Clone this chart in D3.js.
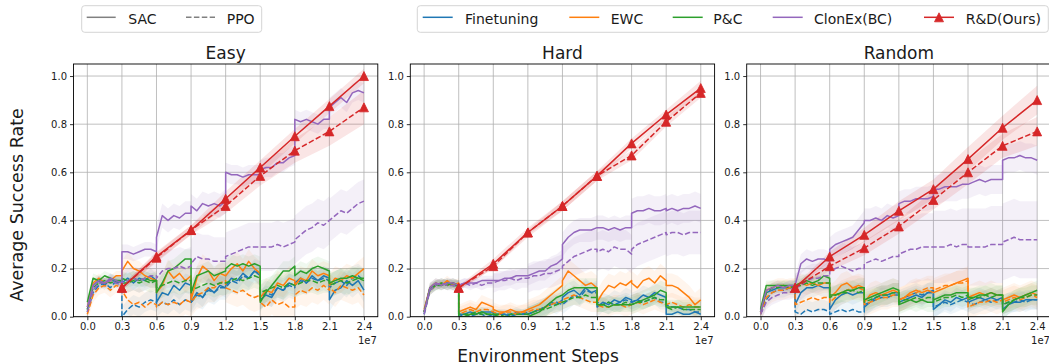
<!DOCTYPE html>
<html><head><meta charset="utf-8">
<script src="https://cdn.jsdelivr.net/npm/d3@7"></script>
<style>
body{margin:0;background:#fff}
svg{display:block}
text{font-family:"DejaVu Sans",sans-serif;fill:#1a1a1a}
</style>
</head><body>
<svg id="c" width="1049" height="364"></svg>
<script>
// ---------------- data ----------------
const panelTitles = ["Easy", "Hard", "Random"];
const methodNames = ["Finetuning", "EWC", "P&C", "ClonEx(BC)"];
const methodColors = ["#1f77b4", "#ff7f0e", "#2ca02c", "#9467bd"];
const oursName = "R&D(Ours)";
const oursColor = "#d62728";
const algoNames = ["SAC", "PPO"];
const xTickValues = [0, 0.3, 0.6, 0.9, 1.2, 1.5, 1.8, 2.1, 2.4];
const yTickValues = [0, 0.2, 0.4, 0.6, 0.8, 1.0];
const taskLen = 0.3;      // env steps per task (x1e7)
const sampleStep = 0.05;  // sampling interval (x1e7)
const perTask = 7;        // samples per task incl. both ends
const oursSteps = [0.3, 0.6, 0.9, 1.2, 1.5, 1.8, 2.1, 2.4];

// Easy
const easy_ft_sac = [0.03,0.13,0.15,0.13,0.16,0.14,0.15, 0.14,0.16,0.14,0.16,0.15,0.17,0.15, 0.06,0.10,0.09,0.13,0.11,0.14,0.13, 0.06,0.10,0.08,0.12,0.10,0.13,0.12, 0.13,0.16,0.15,0.18,0.16,0.19,0.17, 0.07,0.09,0.08,0.12,0.11,0.14,0.13, 0.14,0.16,0.14,0.17,0.15,0.17,0.16, 0.07,0.11,0.12,0.15,0.13,0.15,0.11];
const easy_ft_ppo = [0.02,0.10,0.13,0.14,0.12,0.15,0.14, 0.00,0.03,0.05,0.04,0.06,0.07,0.06, 0.04,0.06,0.05,0.07,0.05,0.07,0.06, 0.06,0.09,0.08,0.11,0.10,0.12,0.12, 0.12,0.15,0.14,0.17,0.16,0.19,0.18, 0.08,0.10,0.09,0.12,0.11,0.13,0.12, 0.13,0.15,0.14,0.16,0.15,0.16,0.15, 0.12,0.14,0.15,0.13,0.16,0.17,0.15];
const easy_ewc_sac = [0.04,0.14,0.16,0.14,0.15,0.17,0.17, 0.19,0.23,0.20,0.19,0.17,0.16,0.15, 0.10,0.13,0.19,0.16,0.18,0.15,0.17, 0.07,0.16,0.21,0.19,0.15,0.18,0.17, 0.17,0.20,0.22,0.19,0.23,0.20,0.18, 0.08,0.11,0.10,0.14,0.13,0.16,0.15, 0.13,0.16,0.15,0.19,0.17,0.18,0.17, 0.13,0.16,0.15,0.17,0.16,0.18,0.20];
const easy_ewc_ppo = [0.01,0.09,0.12,0.13,0.11,0.13,0.12, 0.11,0.07,0.05,0.06,0.04,0.06,0.05, 0.04,0.06,0.05,0.06,0.05,0.07,0.06, 0.06,0.09,0.10,0.12,0.12,0.14,0.15, 0.12,0.11,0.10,0.11,0.09,0.08,0.09, 0.06,0.04,0.07,0.05,0.06,0.04,0.04, 0.09,0.11,0.10,0.12,0.11,0.13,0.11, 0.12,0.10,0.13,0.12,0.11,0.12,0.09];
const easy_pc_sac = [0.06,0.16,0.15,0.17,0.16,0.15,0.15, 0.16,0.15,0.16,0.15,0.16,0.15,0.15, 0.10,0.14,0.19,0.20,0.22,0.24,0.24, 0.10,0.17,0.18,0.19,0.17,0.18,0.19, 0.20,0.22,0.21,0.22,0.21,0.22,0.21, 0.06,0.10,0.13,0.16,0.19,0.19,0.21, 0.17,0.19,0.18,0.20,0.21,0.20,0.19, 0.14,0.15,0.16,0.16,0.17,0.16,0.16];
const easy_pc_ppo = [0.03,0.12,0.14,0.15,0.14,0.15,0.14, 0.14,0.14,0.15,0.14,0.15,0.14,0.15, 0.12,0.13,0.14,0.15,0.14,0.15,0.15, 0.11,0.12,0.13,0.14,0.13,0.14,0.14, 0.14,0.15,0.16,0.15,0.16,0.17,0.16, 0.10,0.11,0.12,0.13,0.12,0.14,0.13, 0.13,0.14,0.15,0.15,0.14,0.15,0.15, 0.13,0.14,0.15,0.14,0.15,0.16,0.15];
const easy_cl_sac = [0.04,0.13,0.15,0.14,0.16,0.15,0.14, 0.27,0.27,0.26,0.27,0.28,0.28,0.27, 0.33,0.42,0.40,0.42,0.41,0.43,0.43, 0.46,0.44,0.47,0.46,0.47,0.46,0.48, 0.60,0.59,0.59,0.58,0.59,0.59,0.59, 0.61,0.62,0.62,0.64,0.64,0.66,0.67, 0.82,0.81,0.82,0.81,0.80,0.82,0.82, 0.87,0.89,0.91,0.89,0.93,0.94,0.93];
const easy_cl_ppo = [0.02,0.11,0.14,0.14,0.15,0.14,0.13, 0.14,0.15,0.16,0.15,0.16,0.17,0.17, 0.16,0.19,0.20,0.20,0.21,0.20,0.21, 0.22,0.25,0.24,0.24,0.23,0.23,0.23, 0.25,0.26,0.27,0.28,0.29,0.29,0.29, 0.29,0.29,0.29,0.30,0.29,0.30,0.31, 0.32,0.34,0.36,0.37,0.39,0.38,0.40, 0.40,0.42,0.44,0.43,0.45,0.47,0.48];
const easy_ours_sac = [0.12, 0.25, 0.36, 0.49, 0.62, 0.75, 0.875, 1.0];
const easy_ours_ppo = [0.12, 0.245, 0.36, 0.46, 0.585, 0.69, 0.77, 0.87];

// Hard
const hard_ft_sac = [0.02,0.12,0.14,0.13,0.14,0.13,0.13, 0.01,0.01,0.02,0.01,0.02,0.02,0.02, 0.01,0.01,0.01,0.00,0.01,0.01,0.01, 0.01,0.02,0.03,0.04,0.06,0.05,0.07, 0.08,0.10,0.11,0.09,0.12,0.10,0.11, 0.04,0.06,0.05,0.07,0.06,0.08,0.07, 0.06,0.07,0.09,0.08,0.10,0.09,0.08, 0.01,0.01,0.02,0.01,0.01,0.02,0.01];
const hard_ft_ppo = [0.01,0.11,0.13,0.14,0.13,0.14,0.13, 0.00,0.01,0.00,0.01,0.01,0.00,0.01, 0.00,0.01,0.01,0.01,0.02,0.01,0.02, 0.01,0.02,0.03,0.04,0.05,0.06,0.05, 0.05,0.07,0.09,0.08,0.11,0.10,0.10, 0.06,0.05,0.06,0.05,0.06,0.07,0.06, 0.06,0.07,0.06,0.07,0.08,0.06,0.06, 0.05,0.04,0.04,0.03,0.03,0.02,0.02];
const hard_ewc_sac = [0.03,0.12,0.14,0.13,0.15,0.13,0.14, 0.02,0.03,0.04,0.03,0.06,0.05,0.04, 0.03,0.02,0.02,0.03,0.02,0.02,0.03, 0.03,0.04,0.05,0.07,0.09,0.11,0.13, 0.15,0.19,0.17,0.15,0.13,0.14,0.12, 0.06,0.10,0.13,0.12,0.14,0.13,0.15, 0.14,0.12,0.15,0.16,0.14,0.17,0.15, 0.13,0.13,0.12,0.10,0.08,0.05,0.07];
const hard_ewc_ppo = [0.02,0.11,0.13,0.14,0.13,0.14,0.13, 0.01,0.02,0.03,0.02,0.03,0.03,0.02, 0.02,0.01,0.02,0.02,0.01,0.02,0.02, 0.02,0.03,0.03,0.04,0.05,0.06,0.06, 0.07,0.08,0.09,0.08,0.07,0.06,0.06, 0.05,0.04,0.04,0.05,0.05,0.04,0.05, 0.05,0.06,0.05,0.06,0.07,0.06,0.05, 0.05,0.06,0.05,0.04,0.05,0.04,0.04];
const hard_pc_sac = [0.02,0.12,0.13,0.14,0.13,0.14,0.13, 0.00,0.00,0.01,0.01,0.02,0.01,0.01, 0.01,0.00,0.00,0.00,0.00,0.00,0.00, 0.00,0.01,0.02,0.04,0.06,0.08,0.09, 0.09,0.11,0.12,0.12,0.12,0.12,0.12, 0.05,0.05,0.04,0.05,0.05,0.05,0.05, 0.05,0.06,0.07,0.08,0.09,0.11,0.10, 0.04,0.04,0.04,0.04,0.04,0.04,0.04];
const hard_pc_ppo = [0.02,0.11,0.13,0.13,0.14,0.13,0.13, 0.01,0.01,0.01,0.02,0.01,0.01,0.01, 0.01,0.01,0.00,0.01,0.01,0.01,0.01, 0.01,0.02,0.03,0.03,0.04,0.05,0.06, 0.06,0.07,0.08,0.08,0.09,0.08,0.08, 0.05,0.05,0.06,0.05,0.05,0.06,0.05, 0.05,0.06,0.06,0.07,0.08,0.07,0.07, 0.04,0.03,0.04,0.03,0.03,0.03,0.03];
const hard_cl_sac = [0.02,0.12,0.14,0.13,0.14,0.14,0.13, 0.13,0.14,0.14,0.14,0.15,0.15,0.15, 0.15,0.15,0.16,0.16,0.17,0.17,0.17, 0.17,0.18,0.19,0.19,0.21,0.22,0.24, 0.30,0.33,0.35,0.36,0.36,0.36,0.37, 0.37,0.37,0.36,0.37,0.36,0.37,0.37, 0.43,0.44,0.44,0.45,0.44,0.44,0.45, 0.44,0.45,0.44,0.45,0.45,0.46,0.45];
const hard_cl_ppo = [0.01,0.11,0.13,0.14,0.13,0.13,0.13, 0.13,0.14,0.13,0.14,0.13,0.14,0.14, 0.14,0.15,0.15,0.16,0.15,0.16,0.16, 0.16,0.17,0.17,0.18,0.18,0.19,0.20, 0.21,0.23,0.25,0.26,0.27,0.28,0.28, 0.27,0.28,0.27,0.29,0.28,0.28,0.26, 0.28,0.30,0.31,0.32,0.33,0.34,0.35, 0.34,0.35,0.35,0.34,0.35,0.35,0.35];
const hard_ours_sac = [0.12, 0.22, 0.35, 0.46, 0.585, 0.72, 0.84, 0.95];
const hard_ours_ppo = [0.12, 0.21, 0.35, 0.46, 0.585, 0.67, 0.81, 0.93];

// Random
const rand_ft_sac = [0.02,0.10,0.11,0.12,0.12,0.12,0.12, 0.05,0.10,0.12,0.12,0.13,0.12,0.12, 0.03,0.07,0.09,0.10,0.09,0.10,0.10, 0.04,0.06,0.08,0.09,0.09,0.10,0.10, 0.06,0.07,0.08,0.09,0.08,0.10,0.11, 0.03,0.05,0.07,0.06,0.08,0.07,0.08, 0.06,0.07,0.08,0.07,0.08,0.07,0.08, 0.03,0.05,0.06,0.06,0.07,0.07,0.07];
const rand_ft_ppo = [0.01,0.07,0.10,0.11,0.11,0.12,0.12, 0.02,0.01,0.03,0.02,0.03,0.03,0.02, 0.01,0.02,0.03,0.02,0.03,0.02,0.02, 0.05,0.06,0.07,0.08,0.08,0.09,0.09, 0.07,0.08,0.09,0.10,0.09,0.10,0.10, 0.04,0.05,0.06,0.05,0.06,0.07,0.06, 0.06,0.05,0.06,0.07,0.06,0.07,0.07, 0.05,0.06,0.06,0.07,0.06,0.07,0.07];
const rand_ewc_sac = [0.02,0.11,0.12,0.13,0.13,0.12,0.13, 0.13,0.14,0.13,0.14,0.13,0.14,0.14, 0.08,0.10,0.13,0.14,0.12,0.13,0.12, 0.06,0.09,0.10,0.09,0.10,0.11,0.10, 0.07,0.08,0.10,0.11,0.10,0.11,0.10, 0.10,0.11,0.12,0.13,0.14,0.15,0.16, 0.08,0.09,0.10,0.09,0.10,0.09,0.09, 0.07,0.08,0.09,0.08,0.09,0.10,0.09];
const rand_ewc_ppo = [0.01,0.08,0.10,0.11,0.11,0.12,0.12, 0.05,0.06,0.07,0.08,0.07,0.08,0.08, 0.06,0.08,0.10,0.11,0.12,0.12,0.11, 0.05,0.06,0.07,0.08,0.08,0.09,0.09, 0.07,0.08,0.09,0.10,0.11,0.12,0.12, 0.11,0.12,0.13,0.13,0.14,0.14,0.15, 0.04,0.05,0.06,0.06,0.07,0.06,0.07, 0.06,0.07,0.08,0.07,0.08,0.09,0.08];
const rand_pc_sac = [0.03,0.13,0.13,0.13,0.13,0.13,0.13, 0.13,0.14,0.15,0.14,0.15,0.17,0.16, 0.09,0.09,0.10,0.11,0.11,0.12,0.12, 0.07,0.08,0.09,0.10,0.11,0.12,0.11, 0.05,0.06,0.07,0.06,0.07,0.06,0.06, 0.07,0.08,0.09,0.09,0.10,0.10,0.10, 0.08,0.08,0.09,0.09,0.10,0.09,0.09, 0.02,0.05,0.07,0.08,0.09,0.10,0.11];
const rand_pc_ppo = [0.02,0.10,0.12,0.12,0.13,0.12,0.13, 0.12,0.13,0.14,0.13,0.14,0.14,0.14, 0.08,0.09,0.10,0.10,0.11,0.10,0.11, 0.06,0.07,0.08,0.09,0.09,0.10,0.10, 0.06,0.07,0.07,0.08,0.07,0.08,0.08, 0.06,0.07,0.08,0.08,0.09,0.08,0.09, 0.07,0.08,0.08,0.09,0.08,0.09,0.09, 0.05,0.06,0.07,0.08,0.08,0.09,0.09];
const rand_cl_sac = [0.02,0.11,0.12,0.13,0.12,0.13,0.13, 0.13,0.22,0.24,0.23,0.24,0.24,0.23, 0.28,0.30,0.31,0.32,0.33,0.36,0.39, 0.40,0.40,0.41,0.40,0.42,0.41,0.42, 0.47,0.48,0.48,0.49,0.49,0.49,0.50, 0.53,0.53,0.54,0.54,0.54,0.55,0.55, 0.55,0.56,0.57,0.56,0.57,0.57,0.57, 0.65,0.66,0.66,0.67,0.66,0.66,0.65];
const rand_cl_ppo = [0.01,0.06,0.08,0.09,0.10,0.10,0.11, 0.12,0.13,0.15,0.16,0.16,0.17,0.17, 0.19,0.20,0.21,0.20,0.19,0.20,0.20, 0.22,0.23,0.24,0.23,0.24,0.25,0.25, 0.26,0.27,0.28,0.28,0.29,0.29,0.29, 0.29,0.29,0.29,0.30,0.29,0.30,0.30, 0.29,0.29,0.29,0.29,0.30,0.30,0.30, 0.31,0.32,0.33,0.32,0.32,0.32,0.32];
const rand_ours_sac = [0.12, 0.25, 0.34, 0.44, 0.53, 0.655, 0.785, 0.90];
const rand_ours_ppo = [0.12, 0.21, 0.285, 0.375, 0.485, 0.60, 0.71, 0.77];

// spread (std) per task segment
const easy_std = {
  ft_sac:[0.02,0.03,0.04,0.04,0.04,0.04,0.04,0.05], ft_ppo:[0.02,0.04,0.04,0.05,0.05,0.05,0.05,0.05],
  ewc_sac:[0.02,0.04,0.05,0.05,0.05,0.05,0.05,0.05], ewc_ppo:[0.03,0.06,0.06,0.06,0.06,0.06,0.06,0.06],
  pc_sac:[0.02,0.03,0.04,0.04,0.04,0.04,0.04,0.04], pc_ppo:[0.02,0.04,0.05,0.05,0.05,0.05,0.05,0.05],
  cl_sac:[0.02,0.03,0.05,0.05,0.04,0.04,0.04,0.04], cl_ppo:[0.02,0.05,0.08,0.10,0.10,0.10,0.10,0.09]
};
const hard_std = {
  ft_sac:[0.02,0.02,0.02,0.04,0.04,0.04,0.04,0.02], ft_ppo:[0.02,0.02,0.02,0.03,0.04,0.03,0.03,0.02],
  ewc_sac:[0.02,0.03,0.03,0.04,0.05,0.05,0.05,0.05], ewc_ppo:[0.02,0.03,0.03,0.04,0.04,0.04,0.04,0.04],
  pc_sac:[0.02,0.02,0.02,0.04,0.04,0.03,0.04,0.03], pc_ppo:[0.02,0.02,0.02,0.03,0.03,0.03,0.03,0.03],
  cl_sac:[0.02,0.02,0.03,0.04,0.05,0.05,0.06,0.06], cl_ppo:[0.02,0.02,0.04,0.06,0.08,0.08,0.09,0.09]
};
const rand_std = {
  ft_sac:[0.02,0.04,0.04,0.04,0.04,0.04,0.04,0.04], ft_ppo:[0.03,0.04,0.04,0.04,0.04,0.04,0.04,0.04],
  ewc_sac:[0.03,0.04,0.05,0.05,0.05,0.05,0.05,0.05], ewc_ppo:[0.04,0.05,0.05,0.05,0.05,0.05,0.05,0.05],
  pc_sac:[0.02,0.03,0.04,0.04,0.04,0.04,0.04,0.04], pc_ppo:[0.02,0.03,0.04,0.04,0.04,0.04,0.04,0.04],
  cl_sac:[0.02,0.04,0.05,0.05,0.05,0.06,0.06,0.06], cl_ppo:[0.03,0.06,0.10,0.12,0.14,0.15,0.16,0.16]
};
const easy_ours_std = {sac:[0.01,0.02,0.02,0.03,0.03,0.03,0.03,0.03], ppo:[0.01,0.02,0.02,0.03,0.04,0.05,0.06,0.07]};
const hard_ours_std = {sac:[0.01,0.02,0.02,0.02,0.02,0.02,0.02,0.03], ppo:[0.01,0.01,0.01,0.02,0.02,0.02,0.02,0.02]};
const rand_ours_std = {sac:[0.01,0.02,0.03,0.04,0.04,0.05,0.05,0.06], ppo:[0.01,0.02,0.03,0.03,0.04,0.05,0.05,0.06]};

const panelsData = [
  {title: panelTitles[0], series: [[easy_ft_sac, easy_ft_ppo],[easy_ewc_sac, easy_ewc_ppo],[easy_pc_sac, easy_pc_ppo],[easy_cl_sac, easy_cl_ppo]], std: easy_std, ours: [easy_ours_sac, easy_ours_ppo], oursStd: easy_ours_std},
  {title: panelTitles[1], series: [[hard_ft_sac, hard_ft_ppo],[hard_ewc_sac, hard_ewc_ppo],[hard_pc_sac, hard_pc_ppo],[hard_cl_sac, hard_cl_ppo]], std: hard_std, ours: [hard_ours_sac, hard_ours_ppo], oursStd: hard_ours_std},
  {title: panelTitles[2], series: [[rand_ft_sac, rand_ft_ppo],[rand_ewc_sac, rand_ewc_ppo],[rand_pc_sac, rand_pc_ppo],[rand_cl_sac, rand_cl_ppo]], std: rand_std, ours: [rand_ours_sac, rand_ours_ppo], oursStd: rand_ours_std}
];
const stdKeys = ["ft", "ewc", "pc", "cl"];
const algoKeys = ["sac", "ppo"];

// ---------------- drawing ----------------
const svg = d3.select("#c");
const plotTop = 64, plotBottom = 316.7, plotW = 304.3;
const panelX0 = [73.5, 410.3, 746.7];
const dash = "5.5,2.4";
const lineW = 1.5;

function triPath(s) { const h = s / 2; return `M0,${-h}L${h},${h}L${-h},${h}Z`; }

panelsData.forEach((P, pi) => {
  const x0 = panelX0[pi];
  const x = d3.scaleLinear().domain([-0.12, 2.52]).range([x0, x0 + plotW]);
  const y = d3.scaleLinear().domain([0, 1.05]).range([plotBottom, plotTop]);
  const g = svg.append("g");
  const clipId = "clip" + pi;
  svg.append("clipPath").attr("id", clipId).append("rect")
    .attr("x", x0).attr("y", plotTop).attr("width", plotW).attr("height", plotBottom - plotTop);

  // grid
  g.selectAll(".gx").data(xTickValues).enter().append("line")
    .attr("x1", d => x(d)).attr("x2", d => x(d)).attr("y1", plotTop).attr("y2", plotBottom)
    .attr("stroke", "#b0b0b0").attr("stroke-width", 0.8);
  g.selectAll(".gy").data(yTickValues).enter().append("line")
    .attr("y1", d => y(d)).attr("y2", d => y(d)).attr("x1", x0).attr("x2", x0 + plotW)
    .attr("stroke", "#b0b0b0").attr("stroke-width", 0.8);

  const plot = g.append("g").attr("clip-path", `url(#${clipId})`);

  const toPts = (vals, std) => vals.map((v, i) => {
    const seg = Math.floor(i / perTask);
    return {x: seg * taskLen + (i % perTask) * sampleStep, y: v, s: std[seg]};
  });
  const area = d3.area().x(d => x(d.x)).y0(d => y(d.y - d.s)).y1(d => y(d.y + d.s));
  const line = d3.line().x(d => x(d.x)).y(d => y(d.y));

  // bands
  P.series.forEach((pair, mi) => {
    pair.forEach((vals, ai) => {
      const pts = toPts(vals, P.std[stdKeys[mi] + "_" + algoKeys[ai]]);
      plot.append("path").attr("d", area(pts)).attr("fill", methodColors[mi])
        .attr("fill-opacity", mi === 3 ? 0.1 : 0.075).attr("stroke", "none");
    });
  });
  const oursPts = P.ours.map((vals, ai) => vals.map((v, i) => ({x: oursSteps[i], y: v, s: P.oursStd[algoKeys[ai]][i]})));
  oursPts.forEach(pts => {
    plot.append("path").attr("d", area(pts)).attr("fill", oursColor).attr("fill-opacity", 0.12);
  });

  // lines
  P.series.forEach((pair, mi) => {
    pair.forEach((vals, ai) => {
      const pts = toPts(vals, P.std[stdKeys[mi] + "_" + algoKeys[ai]]);
      plot.append("path").attr("d", line(pts)).attr("fill", "none")
        .attr("stroke", methodColors[mi]).attr("stroke-width", lineW)
        .attr("stroke-dasharray", ai === 1 ? dash : null).attr("stroke-linejoin", "round");
    });
  });
  oursPts.forEach((pts, ai) => {
    plot.append("path").attr("d", line(pts)).attr("fill", "none")
      .attr("stroke", oursColor).attr("stroke-width", lineW)
      .attr("stroke-dasharray", ai === 1 ? dash : null);
  });
  oursPts.forEach(pts => {
    g.selectAll(null).data(pts).enter().append("path")
      .attr("d", triPath(9)).attr("transform", d => `translate(${x(d.x)},${y(d.y)})`)
      .attr("fill", oursColor).attr("stroke", oursColor).attr("stroke-width", 0.8);
  });

  // frame
  g.append("rect").attr("x", x0).attr("y", plotTop).attr("width", plotW).attr("height", plotBottom - plotTop)
    .attr("fill", "none").attr("stroke", "#000").attr("stroke-width", 0.9);

  // axes
  const ax = d3.axisBottom(x).tickValues(xTickValues).tickFormat(d3.format(".1f")).tickSize(3.5).tickPadding(3);
  const axG = g.append("g").attr("transform", `translate(0,${plotBottom})`).call(ax);
  const ay = d3.axisLeft(y).tickValues(yTickValues).tickFormat(d3.format(".1f")).tickSize(3.5).tickPadding(3);
  const ayG = g.append("g").attr("transform", `translate(${x0},0)`).call(ay);
  [axG, ayG].forEach(a => {
    a.select(".domain").remove();
    a.selectAll("text").attr("font-size", 10).attr("font-family", "DejaVu Sans").attr("fill", "#1a1a1a");
    a.selectAll("line").attr("stroke", "#000").attr("stroke-width", 0.8);
  });
  g.append("text").attr("x", x0 + plotW - 1).attr("y", 344).attr("text-anchor", "end")
    .attr("font-size", 10).text("1e7");

  // title
  g.append("text").attr("x", x0 + plotW / 2).attr("y", 59).attr("text-anchor", "middle")
    .attr("font-size", 17).text(P.title);
});

// labels
svg.append("text").attr("transform", "translate(23,205) rotate(-90)").attr("text-anchor", "middle")
  .attr("font-size", 17.5).text("Average Success Rate");
svg.append("text").attr("x", 538).attr("y", 361.5).attr("text-anchor", "middle")
  .attr("font-size", 17).text("Environment Steps");

// legend 1 (algorithms)
const leg1 = svg.append("g");
leg1.append("rect").attr("x", 81.7).attr("y", 5.7).attr("width", 180).attr("height", 26.6).attr("rx", 3)
  .attr("fill", "#fff").attr("stroke", "#d0d0d0").attr("stroke-width", 0.9);
const leg1Pos = [{lx: 86.7, tx: 128.3}, {lx: 186, tx: 226.7}];
algoNames.forEach((n, i) => {
  leg1.append("line").attr("x1", leg1Pos[i].lx).attr("x2", leg1Pos[i].lx + 29).attr("y1", 17.3).attr("y2", 17.3)
    .attr("stroke", "#808080").attr("stroke-width", lineW).attr("stroke-dasharray", i === 1 ? dash : null);
  leg1.append("text").attr("x", leg1Pos[i].tx).attr("y", 24).attr("font-size", 14).text(n);
});

// legend 2 (methods)
const leg2 = svg.append("g");
leg2.append("rect").attr("x", 417.3).attr("y", 5.7).attr("width", 631).attr("height", 26.6).attr("rx", 3)
  .attr("fill", "#fff").attr("stroke", "#d0d0d0").attr("stroke-width", 0.9);
const leg2Pos = [{lx: 422.7, tx: 465}, {lx: 569.3, tx: 610.7}, {lx: 672.7, tx: 713.3}, {lx: 772.7, tx: 814}, {lx: 924, tx: 965.7}];
const legNames = methodNames.concat([oursName]);
const legColors = methodColors.concat([oursColor]);
legNames.forEach((n, i) => {
  leg2.append("line").attr("x1", leg2Pos[i].lx).attr("x2", leg2Pos[i].lx + 30).attr("y1", 17.3).attr("y2", 17.3)
    .attr("stroke", legColors[i]).attr("stroke-width", lineW);
  if (i === 4) {
    leg2.append("path").attr("d", triPath(9)).attr("transform", `translate(${leg2Pos[i].lx + 15},17.3)`)
      .attr("fill", oursColor).attr("stroke", oursColor).attr("stroke-width", 0.8);
  }
  leg2.append("text").attr("x", leg2Pos[i].tx).attr("y", 24).attr("font-size", 14).text(n);
});
</script>
</body></html>
